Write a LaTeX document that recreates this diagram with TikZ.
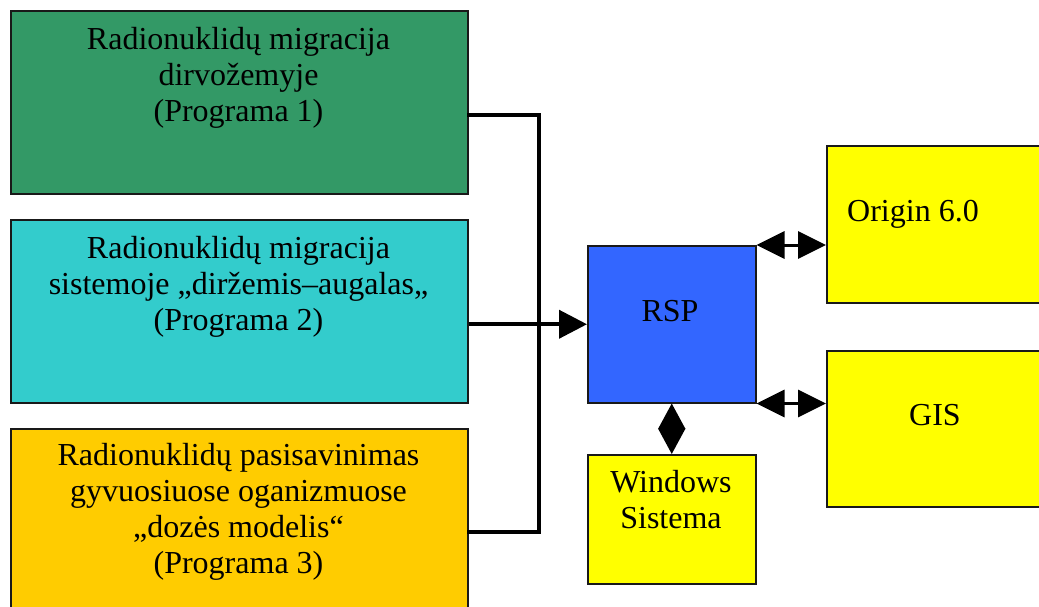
\documentclass[tikz,border=0pt]{standalone}
\usepackage{fontspec}
\setmainfont{Liberation Serif}
\usetikzlibrary{arrows.meta}
\definecolor{boxgreen}{HTML}{339966}
\definecolor{boxcyan}{HTML}{33CCCC}
\definecolor{boxorange}{HTML}{FFCC00}
\definecolor{boxblue}{HTML}{3366FF}
\definecolor{boxyellow}{HTML}{FFFF00}
\tikzset{
  box/.style={rectangle, draw=black!90, line width=1.5pt, inner sep=0pt, anchor=north west},
  txt/.style={inner sep=0pt, align=center, font=\fontsize{32}{36}\selectfont},
  conn/.style={line width=4pt, line join=miter, line cap=rect},
  feed/.style={line width=4pt, -{Triangle[length=28pt,width=28pt]}},
  dbl/.style={line width=3pt, {Triangle[length=28pt,width=27pt]}-{Triangle[length=28pt,width=27pt]}},
  diam/.style={line width=2pt, {Triangle[length=25.5pt,width=27pt]}-{Triangle[length=25.5pt,width=27pt]}}
}
\begin{document}
\begin{tikzpicture}[x=1pt,y=-1pt]
\fill[white] (0,0) rectangle (1039,606);
\clip (0,0) rectangle (1039,606);

% program boxes on the left
\node[box, fill=boxgreen,  minimum width=457pt, minimum height=183pt] (green)  at (10,10) {};
\node[box, fill=boxcyan,   minimum width=457pt, minimum height=183pt] (cyan)   at (10,219) {};
\node[box, fill=boxorange, minimum width=457pt, minimum height=200pt] (orange) at (10,428) {};

\node[txt, anchor=north] (greentext)  at (238.5,27)  {Radionuklidų migracija\\dirvožemyje\\(Programa 1)};
\node[txt, anchor=north] (cyantext)   at (238.5,236) {Radionuklidų migracija\\sistemoje „diržemis–augalas„\\(Programa 2)};
\node[txt, anchor=north] (orangetext) at (238.5,443) {Radionuklidų pasisavinimas\\gyvuosiuose oganizmuose\\„dozės modelis“\\(Programa 3)};

% central system and tools
\node[box, fill=boxblue,   minimum width=168pt, minimum height=157pt] (rsp)    at (587,245) {};
\node[box, fill=boxyellow, minimum width=168pt, minimum height=129pt] (win)    at (587,454) {};
\node[box, fill=boxyellow, minimum width=240pt, minimum height=157pt] (origin) at (826,145) {};
\node[box, fill=boxyellow, minimum width=240pt, minimum height=156pt] (gis)    at (826,350) {};

\node[txt, anchor=base] (rsptext) at (670,321) {RSP};
\node[txt, anchor=north] (wintext) at (671,470) {Windows\\Sistema};
\node[txt, anchor=base west] (origintext) at (847,221) {Origin 6.0};
\node[txt, anchor=base] (gistext) at (935,425) {GIS};

% collecting bus from the three programs
\coordinate (busTop) at (539,115);
\coordinate (busBot) at (539,532);
\draw[conn] (green.east |- busTop) -- (busTop) -- (busBot) -- (orange.east |- busBot);
\draw[feed] (cyan.east |- rsp.west) -- (rsp.west);

% links between RSP and the tools
\draw[dbl] (rsp.north east) -- (origin.west |- rsp.north east);
\draw[dbl] (rsp.south east) -- (gis.west |- rsp.south east);
\draw[diam] (rsp.south) -- (win.north);
\end{tikzpicture}
\end{document}
